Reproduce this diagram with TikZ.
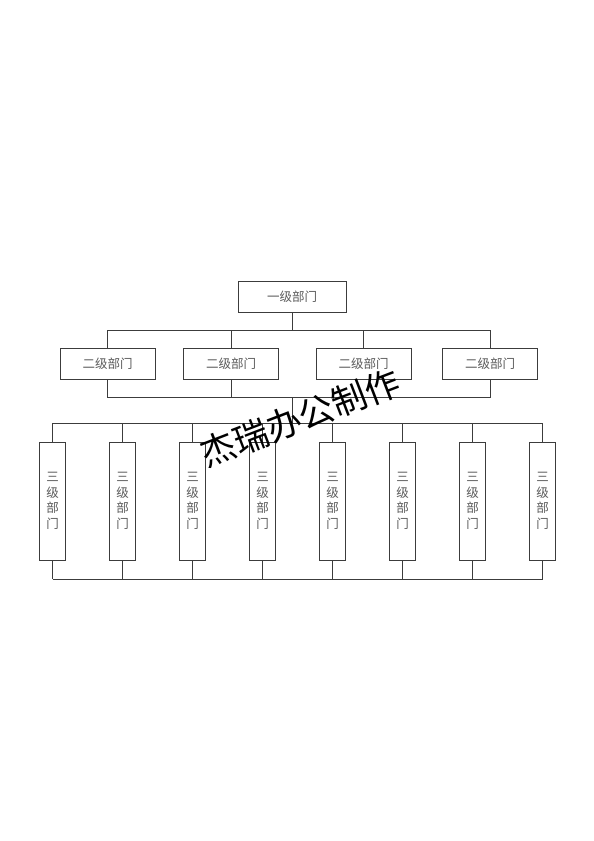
\documentclass[tikz,border=0pt]{standalone}
\usepackage{fontspec}
\newfontfamily\cjk{Noto Sans CJK SC}
\definecolor{linec}{HTML}{3C3C3C}
\definecolor{textc}{HTML}{5A5A5A}
\tikzset{
  lvlone/.style={draw=linec, line width=0.9pt, minimum width=108pt, minimum height=31pt, inner sep=0pt, text=textc, font=\cjk\fontsize{12.5}{14}\selectfont},
  lvltwo/.style={draw=linec, line width=0.9pt, minimum width=95pt, minimum height=31pt, inner sep=0pt, text=textc, font=\cjk\fontsize{12.5}{14}\selectfont},
  lvlthree/.style={draw=linec, line width=0.9pt, minimum width=26pt, minimum height=118pt, inner sep=0pt, text=textc, align=center, font=\cjk\fontsize{12.5}{15.5}\selectfont},
  conn/.style={draw=linec, line width=0.9pt},
  wmark/.style={text=black, font=\cjk\fontsize{35}{35}\selectfont, inner sep=0pt}
}
\begin{document}
\begin{tikzpicture}[x=1pt,y=-1pt]
\useasboundingbox[fill=white] (0,0) rectangle (594,841);
% level 1
\node[lvlone] (top) at (292,296.5) {一级部门};
% level 2
\node[lvltwo] (b1) at (107.6,363.5) {二级部门};
\node[lvltwo] (b2) at (231,363.5) {二级部门};
\node[lvltwo] (b3) at (363.6,363.5) {二级部门};
\node[lvltwo] (b4) at (490,363.5) {二级部门};
% level 3
\foreach \i in {1,...,8}{
  \node[lvlthree] (t\i) at ({52.5+70*(\i-1)},501) {三\\级\\部\\门};
}
% bus coordinates
\coordinate (c1) at (292,330);
\coordinate (c2) at (292,397);
\coordinate (c3) at (292,423);
\coordinate (c4) at (292,579);
% level 1 -> level 2
\draw[conn] (top.south) -- (c1);
\draw[conn] (b1.north) -- (b1.north |- c1) -- (b4.north |- c1) -- (b4.north);
\draw[conn] (b2.north) -- (b2.north |- c1);
\draw[conn] (b3.north) -- (b3.north |- c1);
% level 2 bottom bus
\draw[conn] (b1.south) -- (b1.south |- c2) -- (b4.south |- c2) -- (b4.south);
\draw[conn] (b2.south) -- (b2.south |- c2);
\draw[conn] (c2) -- (c3);
% level 3 buses
\draw[conn] (t1.north |- c3) -- (t8.north |- c3);
\draw[conn] (t1.south |- c4) -- (t8.south |- c4);
\foreach \i in {1,...,8}{
  \draw[conn] (t\i.north) -- (t\i.north |- c3);
  \draw[conn] (t\i.south) -- (t\i.south |- c4);
}
% watermark
\node[wmark, rotate=21] (wm) at (300,418) {杰瑞办公制作};
\end{tikzpicture}
\end{document}
